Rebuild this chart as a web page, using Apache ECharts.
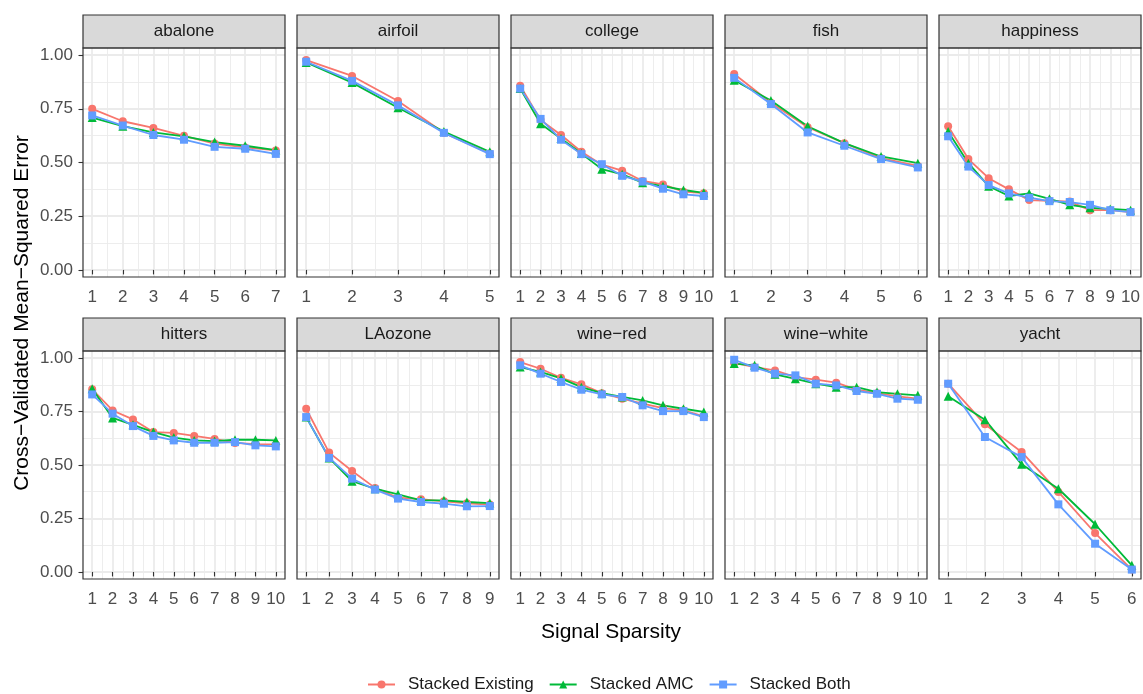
<!DOCTYPE html>
<html>
<head>
<meta charset="utf-8">
<script src="https://cdn.jsdelivr.net/npm/echarts@6/dist/echarts.min.js"></script>
<style>
html, body { margin: 0; padding: 0; background: #fff; }
#chart { width: 1143px; height: 694px; }
</style>
</head>
<body>
<div id="chart"></div>
<script>
// panel names (facets)
const panels = ["abalone", "airfoil", "college", "fish", "happiness",
  "hitters", "LAozone", "wine\u2212red", "wine\u2212white", "yacht"];

// CV MSE per signal sparsity, one row per panel
const stackedExisting = [
  [0.750, 0.692, 0.661, 0.624, 0.588, 0.570, 0.556],
  [0.977, 0.903, 0.786, 0.638, 0.542],
  [0.857, 0.698, 0.628, 0.550, 0.490, 0.462, 0.414, 0.398, 0.364, 0.357],
  [0.912, 0.778, 0.664, 0.590, 0.520, 0.484],
  [0.669, 0.516, 0.427, 0.375, 0.325, 0.322, 0.318, 0.278, 0.278, 0.269],
  [0.854, 0.755, 0.713, 0.654, 0.650, 0.636, 0.622, 0.603, 0.598, 0.596],
  [0.763, 0.558, 0.472, 0.393, 0.347, 0.340, 0.330, 0.321, 0.315],
  [0.981, 0.950, 0.908, 0.877, 0.836, 0.810, 0.787, 0.766, 0.755, 0.727],
  [0.977, 0.958, 0.942, 0.911, 0.899, 0.885, 0.852, 0.836, 0.821, 0.810],
  [0.880, 0.690, 0.561, 0.374, 0.182, 0.011]
];
const stackedAMC = [
  [0.709, 0.669, 0.640, 0.622, 0.595, 0.578, 0.558],
  [0.966, 0.872, 0.755, 0.644, 0.550],
  [0.844, 0.680, 0.612, 0.542, 0.469, 0.445, 0.406, 0.390, 0.372, 0.359],
  [0.883, 0.789, 0.669, 0.590, 0.528, 0.497],
  [0.644, 0.497, 0.390, 0.344, 0.356, 0.331, 0.303, 0.289, 0.284, 0.278],
  [0.857, 0.720, 0.688, 0.654, 0.628, 0.615, 0.612, 0.618, 0.618, 0.615],
  [0.724, 0.533, 0.424, 0.389, 0.363, 0.335, 0.335, 0.327, 0.322],
  [0.958, 0.935, 0.905, 0.864, 0.836, 0.818, 0.802, 0.779, 0.763, 0.748],
  [0.974, 0.966, 0.924, 0.903, 0.880, 0.864, 0.864, 0.841, 0.833, 0.826],
  [0.821, 0.712, 0.503, 0.389, 0.223, 0.031]
];
const stackedBoth = [
  [0.719, 0.672, 0.628, 0.606, 0.573, 0.564, 0.540],
  [0.969, 0.880, 0.766, 0.638, 0.539],
  [0.844, 0.703, 0.606, 0.539, 0.492, 0.438, 0.411, 0.378, 0.352, 0.344],
  [0.894, 0.772, 0.640, 0.578, 0.516, 0.477],
  [0.622, 0.481, 0.395, 0.356, 0.336, 0.320, 0.316, 0.303, 0.278, 0.269],
  [0.830, 0.740, 0.682, 0.636, 0.615, 0.604, 0.604, 0.607, 0.592, 0.587],
  [0.724, 0.533, 0.436, 0.385, 0.343, 0.327, 0.319, 0.307, 0.308],
  [0.966, 0.927, 0.888, 0.852, 0.830, 0.818, 0.779, 0.752, 0.752, 0.724],
  [0.992, 0.955, 0.927, 0.919, 0.880, 0.872, 0.846, 0.833, 0.810, 0.805],
  [0.880, 0.631, 0.537, 0.316, 0.132, 0.011]
];

const yTicks = [0, 0.25, 0.5, 0.75, 1];
const yMinor = [0.125, 0.375, 0.625, 0.875];
const yMin = -0.033, yMax = 1.033;

const methods = [
  { name: "Stacked Existing", color: "#F8766D", symbol: "circle", size: 8, data: stackedExisting },
  { name: "Stacked AMC", color: "#00BA38", symbol: "triangle", size: 9, data: stackedAMC },
  { name: "Stacked Both", color: "#619CFF", symbol: "rect", size: 8, data: stackedBoth }
];

// layout
const FONT = '"Liberation Sans", Arial, sans-serif';
const colLeft = [83, 297, 511, 725, 939];
const panelW = 202;
const rowTop = [48, 351];
const panelH = [229, 228];
const stripH = 33;

const grids = [], xAxes = [], yAxes = [], series = [], graphics = [];

panels.forEach(function (p, i) {
  const col = i % 5, row = Math.floor(i / 5);
  const n = stackedExisting[i].length;
  const pad = 0.05 * (n - 1);
  const xt = [], xm = [];
  for (let k = 1; k <= n; k++) {
    xt.push(k);
    if (k < n) xm.push(k + 0.5);
  }

  grids.push({
    left: colLeft[col], top: rowTop[row], width: panelW, height: panelH[row],
    show: true, backgroundColor: "#fff", borderWidth: 0
  });

  // major x
  xAxes.push({
    type: "value", gridIndex: i, min: 1 - pad, max: n + pad,
    axisLine: { show: false },
    axisTick: { show: true, length: 4.5, customValues: xt, lineStyle: { color: "#333333", width: 1.1 } },
    axisLabel: { show: true, customValues: xt, margin: 12, color: "#4D4D4D", fontSize: 17, fontFamily: FONT },
    splitLine: { show: true, lineStyle: { color: "#EBEBEB", width: 1.8 } }
  });
  // minor x
  xAxes.push({
    type: "value", gridIndex: i, min: 1 - pad, max: n + pad, position: "bottom",
    axisLine: { show: false },
    axisTick: { show: false, customValues: xm },
    axisLabel: { show: false },
    splitLine: { show: true, lineStyle: { color: "#EBEBEB", width: 0.9 } }
  });

  const first = col === 0;
  yAxes.push({
    type: "value", gridIndex: i, min: yMin, max: yMax,
    axisLine: { show: false },
    axisTick: { show: first, length: 4.5, customValues: yTicks, lineStyle: { color: "#333333", width: 1.1 } },
    axisLabel: {
      show: first, customValues: yTicks, margin: 10, color: "#4D4D4D", fontSize: 17, fontFamily: FONT,
      formatter: function (v) { return v.toFixed(2); }
    },
    splitLine: { show: true, lineStyle: { color: "#EBEBEB", width: 1.8 } }
  });
  yAxes.push({
    type: "value", gridIndex: i, min: yMin, max: yMax, position: "left",
    axisLine: { show: false },
    axisTick: { show: false, customValues: yMinor },
    axisLabel: { show: false },
    splitLine: { show: true, lineStyle: { color: "#EBEBEB", width: 0.9 } }
  });

  methods.forEach(function (m) {
    series.push({
      name: m.name, type: "line", xAxisIndex: 2 * i, yAxisIndex: 2 * i,
      data: m.data[i].map(function (v, k) { return [k + 1, v]; }),
      symbol: m.symbol, symbolSize: m.size, showSymbol: true,
      lineStyle: { color: m.color, width: 1.8 },
      itemStyle: { color: m.color },
      emphasis: { disabled: true },
      animation: false
    });
  });

  // strip + panel border, drawn on top of the grid lines
  graphics.push({
    type: "rect", z: 50,
    shape: { x: colLeft[col], y: rowTop[row] - stripH, width: panelW, height: stripH },
    style: { fill: "#D9D9D9", stroke: "#333333", lineWidth: 1.2 }
  });
  graphics.push({
    type: "rect", z: 50,
    shape: { x: colLeft[col], y: rowTop[row], width: panelW, height: panelH[row] },
    style: { fill: "none", stroke: "#333333", lineWidth: 1.2 }
  });
  graphics.push({
    type: "text", z: 51, x: colLeft[col] + panelW / 2, y: rowTop[row] - stripH / 2,
    style: { text: p, fill: "#1A1A1A", fontSize: 17, fontFamily: FONT, align: "center", verticalAlign: "middle" }
  });
});

graphics.push({
  type: "text", x: 22, y: 313, rotation: Math.PI / 2,
  style: { text: "Cross\u2212Validated Mean\u2212Squared Error", fill: "#000", fontSize: 21, fontFamily: FONT, align: "center", verticalAlign: "middle" }
});
graphics.push({
  type: "text", x: 611, y: 632,
  style: { text: "Signal Sparsity", fill: "#000", fontSize: 21, fontFamily: FONT, align: "center", verticalAlign: "middle" }
});

const myChart = echarts.init(document.getElementById("chart"));
const option = {
  backgroundColor: "#fff",
  animation: false,
  grid: grids,
  xAxis: xAxes,
  yAxis: yAxes,
  series: series,
  legend: {
    top: 676, left: 367, padding: 0,
    itemWidth: 27, itemHeight: 10, itemGap: 15,
    textStyle: { fontSize: 17, color: "#1A1A1A", fontFamily: FONT, padding: [0, 0, 0, 8] },
    data: methods.map(function (m) { return m.name; })
  },
  graphic: graphics
};
myChart.setOption(option);
</script>
</body>
</html>
